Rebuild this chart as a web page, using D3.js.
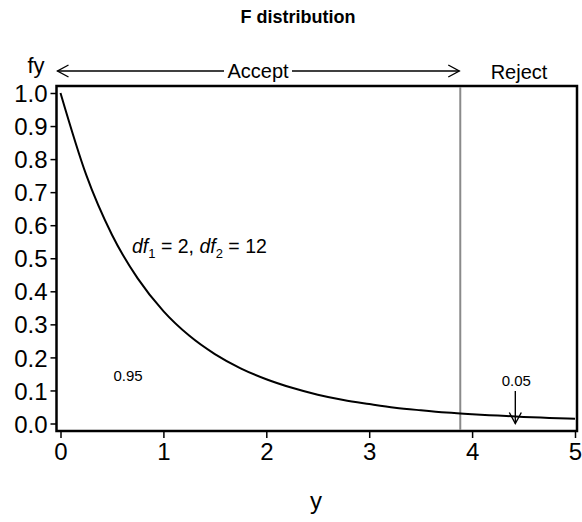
<!DOCTYPE html>
<html>
<head>
<meta charset="utf-8">
<script src="https://cdn.jsdelivr.net/npm/d3@7"></script>
<style>
  body { margin: 0; background: #fff; }
  svg { display: block; font-family: "Liberation Sans", Arial, Helvetica, sans-serif; }
</style>
</head>
<body>
<div id="chart"></div>
<script>
// data
const yValues = [0, 0.25, 0.5, 0.75, 1, 1.25, 1.5, 1.75, 2, 2.25, 2.5, 2.75, 3, 3.25, 3.5, 3.75, 4, 4.25, 4.5, 4.75, 5];
const fyValues = [1.0, 0.752, 0.571, 0.439, 0.34, 0.266, 0.21, 0.167, 0.134, 0.108, 0.087, 0.071, 0.059, 0.048, 0.04, 0.033, 0.028, 0.024, 0.02, 0.017, 0.014];
const xTicks = [0, 1, 2, 3, 4, 5];
const yTicks = [0, 0.1, 0.2, 0.3, 0.4, 0.5, 0.6, 0.7, 0.8, 0.9, 1.0];
const critical = 3.885;
const tailArrowAt = 4.42;
const df1 = 2, df2 = 12;

const width = 582, height = 522;
const frame = { left: 56.5, right: 577, top: 86, bottom: 431 };

const svg = d3.select("#chart").append("svg")
  .attr("width", width)
  .attr("height", height);

//scales
const x = d3.scaleLinear().domain([0, 5]).range([60.5, 575]);
const y = d3.scaleLinear().domain([0, 1]).range([423.5, 93]);

//title
svg.append("text")
  .attr("x", 298).attr("y", 23)
  .attr("text-anchor", "middle")
  .attr("font-size", 18).attr("font-weight", "bold")
  .text("F distribution");

//frame
svg.append("rect")
  .attr("x", frame.left).attr("y", frame.top)
  .attr("width", frame.right - frame.left)
  .attr("height", frame.bottom - frame.top)
  .attr("fill", "none").attr("stroke", "#000").attr("stroke-width", 2.5);

//axes
const xAxis = svg.append("g")
  .attr("transform", `translate(0,${frame.bottom})`)
  .call(d3.axisBottom(x).tickValues(xTicks).tickFormat(d3.format("d")).tickSize(7).tickPadding(5));
const yAxis = svg.append("g")
  .attr("transform", `translate(${frame.left},0)`)
  .call(d3.axisLeft(y).tickValues(yTicks).tickFormat(d3.format(".1f")).tickSize(6).tickPadding(3));

[xAxis, yAxis].forEach((g) => {
  g.select(".domain").remove();
  g.selectAll(".tick line").attr("stroke", "#000").attr("stroke-width", 1.5);
  g.selectAll(".tick text")
    .attr("fill", "#000")
    .attr("font-size", 24)
    .attr("font-family", "'Liberation Sans', Arial, sans-serif");
});
yAxis.selectAll(".tick text").attr("dy", "0.36em");

//axis labels
svg.append("text")
  .attr("x", 36).attr("y", 73)
  .attr("text-anchor", "middle")
  .attr("font-size", 22)
  .text("fy");
svg.append("text")
  .attr("x", 316).attr("y", 509)
  .attr("text-anchor", "middle")
  .attr("font-size", 24)
  .text("y");

//critical line
svg.append("line")
  .attr("x1", x(critical)).attr("x2", x(critical))
  .attr("y1", frame.top + 1).attr("y2", frame.bottom - 1)
  .attr("stroke", "#8a8a8a").attr("stroke-width", 2);

//density curve
const points = yValues.map((v, i) => ({ y: v, fy: fyValues[i] }));
const line = d3.line()
  .x((d) => x(d.y))
  .y((d) => y(d.fy))
  .curve(d3.curveMonotoneX);
svg.append("path")
  .datum(points)
  .attr("d", line)
  .attr("fill", "none")
  .attr("stroke", "#000")
  .attr("stroke-width", 2);

//Accept / Reject arrow
const arrowY = 71;
const acceptX = 258;
const acceptG = svg.append("g").attr("stroke", "#000").attr("stroke-width", 1.4).attr("fill", "none");
acceptG.append("line").attr("x1", frame.left + 1).attr("x2", acceptX - 34).attr("y1", arrowY).attr("y2", arrowY);
acceptG.append("line").attr("x1", acceptX + 34).attr("x2", x(critical) - 1).attr("y1", arrowY).attr("y2", arrowY);
acceptG.append("path")
  .attr("d", `M${frame.left + 12},${arrowY - 6}L${frame.left + 1},${arrowY}L${frame.left + 12},${arrowY + 6}`);
acceptG.append("path")
  .attr("d", `M${x(critical) - 12},${arrowY - 6}L${x(critical) - 1},${arrowY}L${x(critical) - 12},${arrowY + 6}`);

svg.append("text")
  .attr("x", acceptX).attr("y", 78)
  .attr("text-anchor", "middle")
  .attr("font-size", 20)
  .text("Accept");
svg.append("text")
  .attr("x", 519).attr("y", 79)
  .attr("text-anchor", "middle")
  .attr("font-size", 20)
  .text("Reject");

//df label
const dfText = svg.append("text")
  .attr("x", 132).attr("y", 253)
  .attr("font-size", 19.5);
dfText.append("tspan").attr("font-style", "italic").text("df");
dfText.append("tspan").attr("font-size", 13).attr("dy", 5).text("1");
dfText.append("tspan").attr("dy", -5).text(` = ${df1}, `);
dfText.append("tspan").attr("font-style", "italic").text("df");
dfText.append("tspan").attr("font-size", 13).attr("dy", 5).text("2");
dfText.append("tspan").attr("dy", -5).text(` = ${df2}`);

//areas
svg.append("text")
  .attr("x", 128).attr("y", 381)
  .attr("text-anchor", "middle")
  .attr("font-size", 15)
  .text("0.95");
svg.append("text")
  .attr("x", x(tailArrowAt) + 1).attr("y", 386)
  .attr("text-anchor", "middle")
  .attr("font-size", 15)
  .text("0.05");
const tailG = svg.append("g").attr("stroke", "#000").attr("stroke-width", 1.4).attr("fill", "none");
tailG.append("line")
  .attr("x1", x(tailArrowAt)).attr("x2", x(tailArrowAt))
  .attr("y1", 391).attr("y2", y(0));
tailG.append("path")
  .attr("d", `M${x(tailArrowAt) - 6},${y(0) - 11}L${x(tailArrowAt)},${y(0)}L${x(tailArrowAt) + 6},${y(0) - 11}`);
</script>
</body>
</html>
